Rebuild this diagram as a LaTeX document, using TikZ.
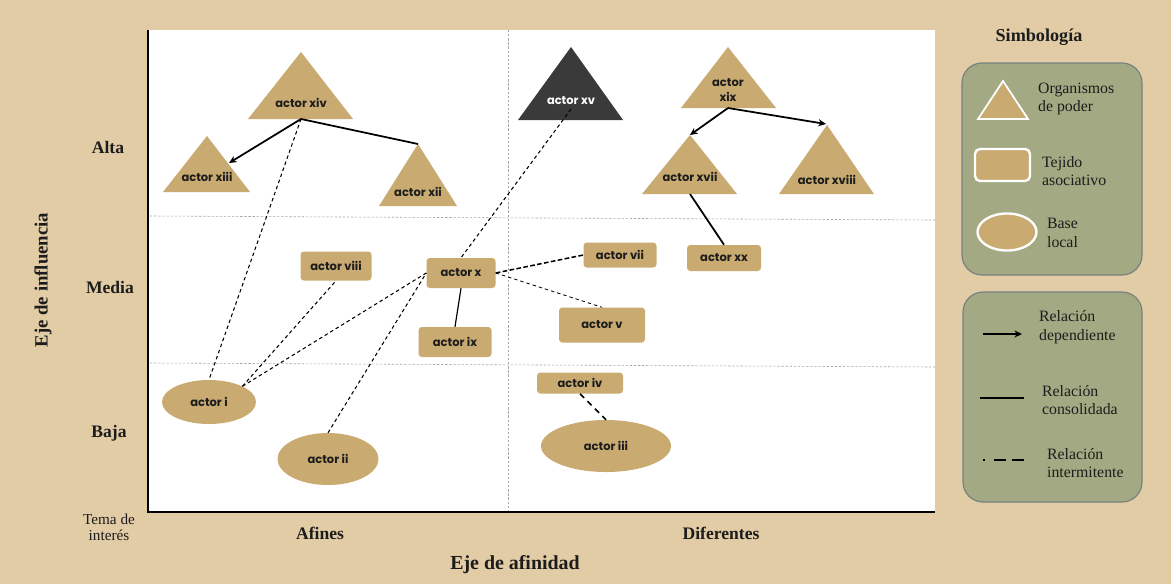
\documentclass[tikz,border=0pt]{standalone}
\usepackage{fontspec}
\setmainfont{Liberation Serif}
\newfontfamily\actorfont{Poppins}
\usetikzlibrary{shapes.geometric,arrows.meta}

\definecolor{fondo}{RGB}{226,204,165}
\definecolor{arena}{RGB}{201,171,114}
\definecolor{oscuro}{RGB}{58,58,58}
\definecolor{verde}{RGB}{163,169,131}
\definecolor{borde}{RGB}{118,128,128}
\definecolor{tinta}{RGB}{28,28,28}

\tikzset{
  actortxt/.style={font=\actorfont\bfseries\fontsize{9.8}{12}\selectfont, text=tinta, align=center},
  tejido/.style={actortxt, fill=arena, rounded corners=1mm, inner sep=0pt},
  base/.style={actortxt, ellipse, fill=arena, inner sep=0pt},
  rejilla/.style={gray!70, line width=0.5pt, dash pattern=on 2pt off 1.5pt},
  dependiente/.style={line width=1.5pt, -{Stealth[length=6.5pt,width=6pt]}},
  consolidada/.style={line width=1.5pt},
  intermitente/.style={line width=0.9pt, dash pattern=on 3pt off 2.5pt},
  eje/.style={font=\bfseries\fontsize{15}{18}\selectfont, text=tinta},
  leytexto/.style={anchor=west, align=left, font=\fontsize{13.5}{16}\selectfont, text=tinta},
  leyenda/.style={fill=verde, draw=borde, line width=1pt, rounded corners=6mm},
  leyforma/.style={fill=arena, draw=white, line width=2pt}
}

\begin{document}
\begin{tikzpicture}[x=0.3mm,y=-0.3mm]
\fill[fondo] (0,0) rectangle (1171,584);
\useasboundingbox (0,0) rectangle (1171,584);
\fill[white] (148,30) rectangle (935,512);

% cuadrantes
\draw[rejilla] (508,30) -- (508,512);
\draw[rejilla] (150,216) -- (935,220);
\draw[rejilla] (150,363) -- (935,367);
\draw[line width=2.5pt] (148,30) -- (148,512) -- (935,512); % ejes

% organismos de poder
\fill[arena] (301,52) -- (353,119) -- (248,119) -- cycle;
\fill[arena] (207,136) -- (250,192) -- (163,192) -- cycle;
\fill[arena] (418,144) -- (457,206) -- (379,206) -- cycle;
\fill[oscuro] (571,47) -- (623,120) -- (518,120) -- cycle;
\fill[arena] (728,47) -- (776,108) -- (681,108) -- cycle;
\fill[arena] (690,135) -- (737,194) -- (642,194) -- cycle;
\fill[arena] (827,125) -- (874,194) -- (779,194) -- cycle;
\node[actortxt] (xiv) at (301,103) {actor xiv};
\node[actortxt] (xiii) at (207,177) {actor xiii};
\node[actortxt] (xii) at (418,192) {actor xii};
\node[actortxt, text=white] (xv) at (571,101) {actor xv};
\node[actortxt] (xix) at (728,90) {actor\\xix};
\node[actortxt] (xvii) at (690,177) {actor xvii};
\node[actortxt] (xviii) at (827,180) {actor xviii};
\coordinate (xiv-b) at (301,119);
\coordinate (xiii-r) at (229,163);
\coordinate (xii-t) at (418,144);
\coordinate (xix-b) at (728,108);
\coordinate (xvii-t) at (690,135);
\coordinate (xvii-b) at (690,194);
\coordinate (xviii-t) at (826,124);

% tejido asociativo
\node[tejido, minimum width=21.3mm, minimum height=8.7mm] (viii) at (336,266) {actor viii};
\node[tejido, minimum width=20.7mm, minimum height=9mm] (x) at (461,273) {actor x};
\node[tejido, minimum width=21.9mm, minimum height=9mm] (ix) at (455,342) {actor ix};
\node[tejido, minimum width=21.9mm, minimum height=7.5mm] (vii) at (620,255) {actor vii};
\node[tejido, minimum width=22.2mm, minimum height=7.8mm] (xx) at (724,258) {actor xx};
\node[tejido, minimum width=25.8mm, minimum height=10.5mm] (v) at (602,325) {actor v};
\node[tejido, minimum width=25.8mm, minimum height=6.3mm] (iv) at (580,383) {actor iv};

% base local
\node[base, minimum width=28.2mm, minimum height=13.2mm] (i) at (209,402) {actor i};
\node[base, minimum width=30.3mm, minimum height=15.6mm] (ii) at (328,459) {actor ii};
\node[base, minimum width=39mm, minimum height=15.6mm] (iii) at (606,446) {actor iii};

% relaciones
\draw[dependiente] (xiv-b) -- (xiii-r);
\draw[consolidada] (xiv-b) -- (xii-t);
\draw[dependiente] (xix-b) -- (xvii-t);
\draw[dependiente] (xix-b) -- (xviii-t);
\draw[consolidada] (xvii-b) -- (xx.north);
\draw[consolidada, line width=1pt] (x.south) -- (ix.north);
\draw[intermitente] (xiv-b) -- (i.north);
\draw[intermitente] (xv.south) -- (x.north);
\draw[intermitente] (i.north east) -- (viii.south);
\draw[intermitente] (i.north east) -- (x.west);
\draw[intermitente] (ii.north) -- (x.west);
\draw[intermitente, line width=1.3pt, dash pattern=on 4pt off 2pt] (x.east) -- (vii.west);
\draw[intermitente, line width=0.7pt] (x.east) -- (v.north);
\draw[intermitente, line width=1.3pt, dash pattern=on 5pt off 4pt] (iv.south) -- (iii.north);

% ejes
\node[eje] (alta) at (108,147) {Alta};
\node[eje] (media) at (110,287) {Media};
\node[eje] (baja) at (109,433) {Baja};
\node[align=center, font=\fontsize{13}{13.5}\selectfont, text=tinta] (tema) at (109,527) {Tema de\\interés};
\node[rotate=90, font=\bfseries\fontsize{16}{19}\selectfont, text=tinta] (influencia) at (43,280) {Eje de influencia};
\node[eje] (afines) at (320,533) {Afines};
\node[eje] (diferentes) at (721,533) {Diferentes};
\node[font=\bfseries\fontsize{17}{20}\selectfont, text=tinta] (afinidad) at (515,565) {Eje de afinidad};

% simbologia
\node[font=\bfseries\fontsize{15.5}{18}\selectfont, text=tinta] (simbologia) at (1039,37) {Simbología};
\draw[leyenda] (962,63) rectangle (1142,275);
\filldraw[leyforma, line width=1.5pt] (1003,81) -- (1028,119) -- (978,119) -- cycle;
\node[leytexto] (organismos) at (1034,99) {Organismos\\de poder};
\node[leyforma, rounded corners=1.5mm, minimum width=16.5mm, minimum height=9.6mm] (leytejido) at (1002.5,165) {};
\node[leytexto] (tejidotxt) at (1038,171) {Tejido\\asociativo};
\node[leyforma, ellipse, minimum width=17.7mm, minimum height=11.1mm] (leybase) at (1007,232) {};
\node[leytexto] (basetxt) at (1043,233) {Base\\local};
\draw[leyenda] (963,292) rectangle (1142,502);
\draw[dependiente] (983,334) -- (1022,334);
\node[leytexto] (deptxt) at (1035,327) {Relación\\dependiente};
\draw[consolidada] (980,398) -- (1024,398);
\node[leytexto] (contxt) at (1038,400) {Relación\\consolidada};
\draw[line width=1.5pt, dash pattern=on 1.3pt off 8.5pt on 10pt off 5pt on 10pt off 5pt] (983,460) -- (1025,460);
\node[leytexto] (inttxt) at (1043,463) {Relación\\intermitente};
\end{tikzpicture}
\end{document}
